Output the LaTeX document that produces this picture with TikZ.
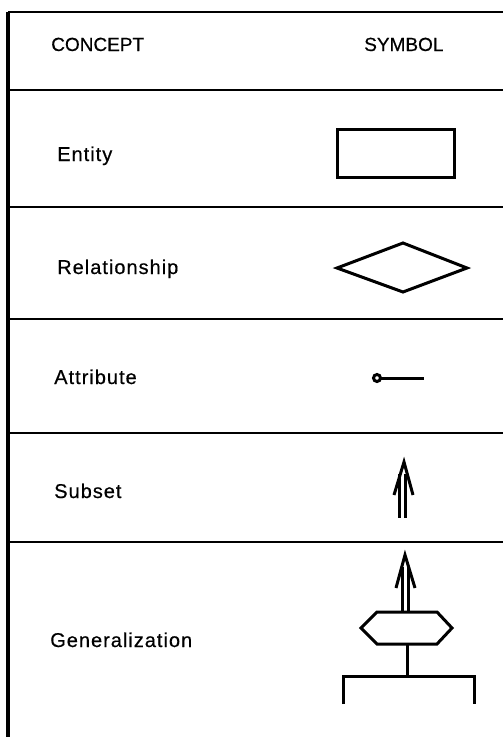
\documentclass[tikz,border=0pt]{standalone}
\usepackage{fontspec}
\setmainfont[FakeBold=0.5]{Liberation Sans}
\newfontfamily\lblfont[LetterSpace=5,FakeBold=0.5]{Liberation Sans}
\begin{document}
\begin{tikzpicture}[x=1pt,y=-1pt,line width=2.5pt,
  every node/.style = {inner sep=0pt,anchor=base west,font=\fontsize{20}{22}\lblfont},
  symb/.style = {line width=3pt,line join=miter}]
   \useasboundingbox (0,0) rectangle (503,737);
   % table rules
   \draw[line width=3.5pt] (8,737) -- (8,12);
   \draw (8,12) -- (503,12);
   \foreach \y in {90,207,319,433,542}
     \draw (8,\y) -- (503,\y);
   % headings
   \node[font=\fontsize{19}{21}\selectfont] (concept) at (50,51) {CONCEPT};
   \node[font=\fontsize{19}{21}\selectfont] (symbol) at (363,51) {SYMBOL};
   % concepts
   \node (entity) at (56,161) {Entity};
   \node (rel) at (56,274) {Relationship};
   \node (attr) at (53,384) {Attribute};
   \node (subset) at (53,498) {Subset};
   \node (gen) at (49,647) {Generalization};
   % symbols
   \draw[symb] (337,129) rectangle (454,177);
   \draw[symb] (337,268) -- (403,243) -- (467,268) -- (403,292) -- cycle;
   \draw[symb] (377,378) circle[radius=3.5pt];
   \draw[symb] (380.5,378) -- (424,378);
   \draw[symb] (394,495) -- (404,462) -- (413,495);
   \draw[symb] (399,474) -- (399,518)  (405,474) -- (405,518);
   \draw[symb] (396,588) -- (405,555) -- (415,588);
   \draw[symb] (402,567) -- (402,612)  (408,567) -- (408,612);
   \draw[symb] (377,612) -- (437,612) -- (452,628) -- (437,644)
         -- (377,644) -- (361,628) -- cycle;
   \draw[symb] (407,644) -- (407,676);
   \draw[symb] (343,704) -- (343,676) -- (474,676) -- (474,704);
\end{tikzpicture}
\end{document}
